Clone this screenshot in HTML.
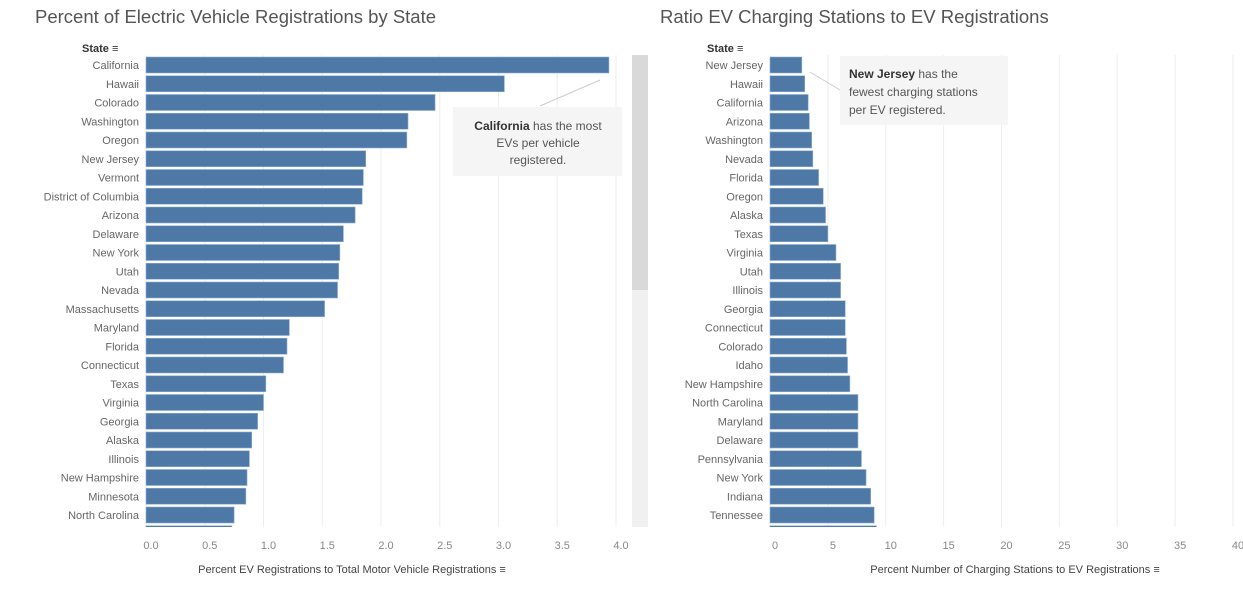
<!DOCTYPE html>
<html><head><meta charset="utf-8"><style>
body{margin:0;background:#fff;width:1243px;height:592px;overflow:hidden;font-family:"Liberation Sans",sans-serif}
svg text{font-family:"Liberation Sans",sans-serif}
</style></head><body>
<svg id="s" width="1243" height="592">
<text x="35" y="23" font-size="18.5" fill="#555">Percent of Electric Vehicle Registrations by State</text>
<text x="660" y="23" font-size="18.5" fill="#555">Ratio EV Charging Stations to EV Registrations</text>
<g id="L"></g><g id="R"></g>
<text x="82" y="52" font-size="11" font-weight="bold" fill="#333">State ≡</text>
<text x="707" y="52" font-size="11" font-weight="bold" fill="#333">State ≡</text>
<rect x="632" y="55" width="16" height="472" fill="#f0f0f0"/>
<rect x="632" y="55" width="16" height="235" fill="#d9d9d9"/>
<line x1="540" y1="106" x2="600" y2="80" stroke="#ccc"/>
<rect x="453" y="107" width="169" height="69" fill="#f5f5f5"/>
<text x="538" y="130" font-size="12" fill="#555" text-anchor="middle"><tspan font-weight="bold" fill="#333">California</tspan> has the most</text>
<text x="538" y="147" font-size="12" fill="#555" text-anchor="middle">EVs per vehicle</text>
<text x="538" y="164" font-size="12" fill="#555" text-anchor="middle">registered.</text>
<line x1="810" y1="72" x2="840" y2="90" stroke="#ccc"/>
<rect x="840" y="56" width="168" height="69" fill="#f5f5f5"/>
<text x="849" y="78" font-size="12" fill="#555"><tspan font-weight="bold" fill="#333">New Jersey</tspan> has the</text>
<text x="849" y="96" font-size="12" fill="#555">fewest charging stations</text>
<text x="849" y="114" font-size="12" fill="#555">per EV registered.</text>
<text x="352" y="573" font-size="11" fill="#444" text-anchor="middle">Percent EV Registrations to Total Motor Vehicle Registrations ≡</text>
<text x="1015" y="573" font-size="11" fill="#444" text-anchor="middle">Percent Number of Charging Stations to EV Registrations ≡</text>
</svg>
<script>
const leftStates=["California","Hawaii","Colorado","Washington","Oregon","New Jersey","Vermont","District of Columbia","Arizona","Delaware","New York","Utah","Nevada","Massachusetts","Maryland","Florida","Connecticut","Texas","Virginia","Georgia","Alaska","Illinois","New Hampshire","Minnesota","North Carolina",""];
const leftValues=[3.94,3.05,2.46,2.23,2.22,1.87,1.85,1.84,1.78,1.68,1.65,1.64,1.63,1.52,1.22,1.20,1.17,1.02,1.00,0.95,0.90,0.88,0.86,0.85,0.75,0.73];
const leftTicks=["0.0","0.5","1.0","1.5","2.0","2.5","3.0","3.5","4.0"];
const rightStates=["New Jersey","Hawaii","California","Arizona","Washington","Nevada","Florida","Oregon","Alaska","Texas","Virginia","Utah","Illinois","Georgia","Connecticut","Colorado","Idaho","New Hampshire","North Carolina","Maryland","Delaware","Pennsylvania","New York","Indiana","Tennessee",""];
const rightValues=[2.75,3.0,3.3,3.4,3.6,3.7,4.2,4.6,4.8,5.0,5.7,6.1,6.1,6.5,6.5,6.6,6.7,6.9,7.6,7.6,7.6,7.9,8.3,8.7,9.0,9.2];
const rightTicks=["0","5","10","15","20","25","30","35","40"];
const NS="http://www.w3.org/2000/svg";
function mk(g,t,a){const e=document.createElementNS(NS,t);for(const k in a)e.setAttribute(k,a[k]);g.appendChild(e);return e;}
function draw(gid,states,vals,ticks,x0,x1,max,pref){
 const g=document.getElementById(gid);
 const xs=v=>x0+v/max*(x1-x0);
 const top=55,bottom=527,pitch=18.75;
 ticks.forEach(t=>{const v=parseFloat(t);const x=xs(v);
  const l=mk(g,"line",{x1:x,x2:x,y1:top,y2:bottom,stroke:"#eee"});
  
  
  const tx=mk(g,"text",{x:x+5,y:549,"font-size":11,fill:"#888","text-anchor":"middle"});tx.textContent=t;
  
  
 });
 const cp=mk(g,"clipPath",{id:gid+"c"});mk(cp,"rect",{x:0,y:top,width:1243,height:bottom-top});
 states.forEach((s,i)=>{const cy=65+i*pitch;
  const r=mk(g,"rect",{x:x0,y:cy-8,width:xs(vals[i])-x0,height:16,fill:"#4e79a7",stroke:"#8fb0d0","stroke-width":0.6,"clip-path":"url(#"+gid+"c)"});
  
  
  if(s){const t=mk(g,"text",{x:x0-7,y:cy+4,"font-size":11,fill:"#666","text-anchor":"end"});t.textContent=s;
  
  }
 });
}
draw("L",leftStates,leftValues,leftTicks,146,616,4,"ev");
draw("R",rightStates,rightValues,rightTicks,770,1233,40,"ratio");
</script>
</body></html>
